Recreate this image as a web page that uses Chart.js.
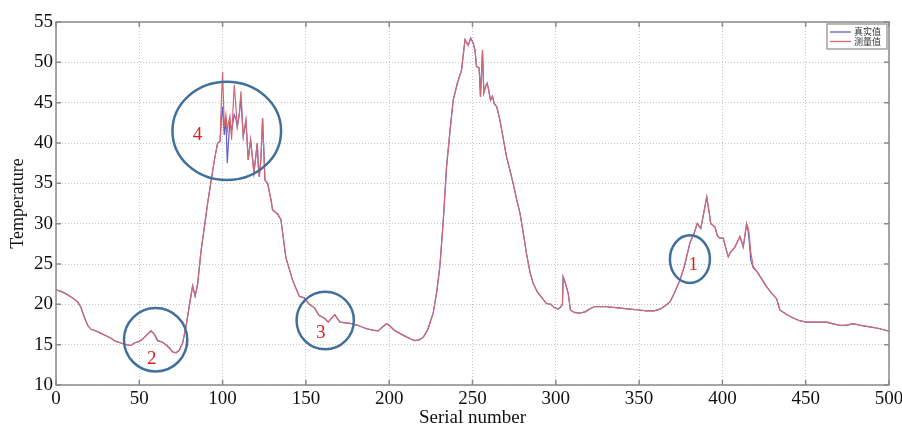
<!DOCTYPE html>
<html>
<head>
<meta charset="utf-8">
<script src="https://cdn.jsdelivr.net/npm/chart.js@4/dist/chart.umd.min.js"></script>
<style>
  html, body { margin: 0; padding: 0; background: #fff; }
</style>
</head>
<body>
<canvas id="tempChart" width="902" height="428"></canvas>
<script>
// serial numbers shared by both series
const serialNumbers = [
  0, 3, 6, 10, 13, 15, 17, 19, 21, 24, 27, 30, 33, 36, 39, 42, 45, 47, 50, 52,
  55, 57, 59, 61, 64, 67, 70, 72, 74, 76, 78, 80, 82, 83.5, 85, 87, 89, 91, 93, 95,
  97, 98.5, 99.3, 100, 101, 102, 102.8, 103.5, 104.4, 105.4, 106.2, 107, 108, 108.8, 110, 111, 112.4, 114, 115.4, 116.8,
  118, 118.8, 120, 120.8, 121.5, 122, 123, 124, 125.4, 127, 129, 130, 133, 135, 138, 142, 146, 149, 152, 155,
  158, 161, 163.4, 165, 167.4, 169, 170.5, 174, 177.4, 181, 186, 190, 193.4, 196, 198.4, 200, 203, 206.4, 210, 213,
  215.4, 218, 220.4, 223, 226.4, 228.5, 230.4, 232.5, 234.4, 236.5, 238.4, 241, 243.4, 245.5, 247.4, 248.9, 250.4, 251.5, 252.4, 254,
  254.8, 256, 256.8, 257.8, 258.8, 259.8, 260.8, 262, 263, 264.5, 266.4, 268.5, 270.4, 272, 274.4, 276.5, 278.5, 280.5, 282.4, 284.5,
  286.4, 289, 291, 294.4, 297, 299, 301.4, 303, 304, 304.4, 305.5, 307.4, 308.8, 311, 314.4, 318, 320, 323, 326, 330.5,
  336, 340, 344.5, 350, 354.5, 359, 362.5, 365.5, 368.5, 371, 374.5, 377, 380.5, 383, 384.9, 387, 388.5, 390.6, 392, 393,
  395.5, 397, 398.5, 400.5, 402, 403.5, 405, 407.5, 410.5, 411.5, 412.5, 413.5, 414.5, 415.5, 416, 417, 418.5, 421, 424, 426.5,
  429, 432.5, 434.5, 438, 442.5, 446, 450.5, 456, 462.5, 466, 470.5, 474, 478.5, 483, 488.5, 494, 499.5, 500
];

// 真实值 (true values)
const trueValues = [
  21.8, 21.6, 21.3, 20.8, 20.3, 19.6, 18.4, 17.4, 16.9, 16.7, 16.4, 16.1, 15.8, 15.4, 15.2, 15.0, 14.9, 15.2, 15.4, 15.7,
  16.3, 16.7, 16.3, 15.5, 15.3, 14.8, 14.1, 14.0, 14.3, 15.2, 17.2, 19.8, 22.3, 21.0, 22.5, 26.5, 29.5, 32.5, 35.2, 37.8,
  40.0, 40.2, 43.0, 44.5, 41.0, 43.0, 37.5, 40.0, 42.8, 41.5, 42.5, 43.5, 43.0, 42.0, 43.5, 45.5, 40.8, 42.8, 37.9, 40.4,
  38.0, 36.3, 38.5, 40.0, 37.0, 35.8, 38.0, 43.1, 35.4, 35.0, 33.0, 31.7, 31.2, 30.5, 25.8, 23.0, 21.0, 20.8, 20.0, 19.6,
  18.6, 18.3, 17.8, 18.2, 18.7, 18.2, 17.8, 17.7, 17.6, 17.4, 17.0, 16.8, 16.7, 17.2, 17.6, 17.4, 16.8, 16.4, 16.0, 15.7,
  15.5, 15.6, 15.9, 16.8, 18.9, 21.5, 24.7, 30.5, 37.0, 41.5, 45.3, 47.5, 49.0, 52.8, 52.1, 53.0, 52.4, 51.5, 49.5, 49.3,
  45.7, 51.5, 46.2, 47.0, 47.4, 46.5, 45.3, 45.8, 44.9, 44.5, 42.9, 40.5, 38.3, 37.0, 35.0, 33.0, 31.3, 28.8, 26.3, 24.0,
  22.6, 21.5, 21.0, 20.1, 20.0, 19.6, 19.4, 19.7, 20.0, 23.4, 22.8, 21.4, 19.3, 19.0, 18.9, 19.1, 19.4, 19.7, 19.7, 19.7,
  19.6, 19.5, 19.4, 19.3, 19.2, 19.2, 19.4, 19.8, 20.3, 21.3, 23.0, 24.6, 27.6, 28.8, 30.0, 29.4, 31.0, 33.3, 31.5, 30.0,
  29.6, 28.5, 28.2, 28.2, 27.0, 25.9, 26.5, 27.1, 28.4, 27.8, 27.1, 28.5, 30.0, 29.0, 28.0, 25.5, 24.5, 24.0, 23.0, 22.2,
  21.5, 20.7, 19.3, 18.8, 18.3, 18.0, 17.8, 17.8, 17.8, 17.6, 17.4, 17.4, 17.6, 17.4, 17.2, 17.0, 16.7, 16.6
];

// 测量值 (measured values)
const measuredValues = [
  21.8, 21.6, 21.3, 20.8, 20.3, 19.6, 18.4, 17.4, 16.9, 16.7, 16.4, 16.1, 15.8, 15.4, 15.2, 15.0, 14.9, 15.2, 15.4, 15.7,
  16.3, 16.7, 16.3, 15.5, 15.3, 14.8, 14.1, 14.0, 14.3, 15.2, 17.2, 19.8, 22.3, 21.0, 22.5, 26.5, 29.5, 32.5, 35.2, 37.8,
  40.0, 40.2, 45.5, 48.8, 42.0, 43.5, 41.5, 42.5, 43.3, 40.4, 44.0, 47.2, 44.5, 42.0, 43.5, 46.4, 40.8, 42.8, 37.9, 40.4,
  38.0, 36.3, 38.5, 40.0, 37.0, 35.8, 38.0, 43.1, 35.4, 35.0, 33.0, 31.7, 31.2, 30.5, 25.8, 23.0, 21.0, 20.8, 20.0, 19.6,
  18.6, 18.3, 17.8, 18.2, 18.7, 18.2, 17.8, 17.7, 17.6, 17.4, 17.0, 16.8, 16.7, 17.2, 17.6, 17.4, 16.8, 16.4, 16.0, 15.7,
  15.5, 15.6, 15.9, 16.8, 18.9, 21.5, 24.7, 30.5, 37.0, 41.5, 45.3, 47.5, 49.0, 52.8, 52.1, 53.0, 52.4, 51.5, 49.5, 49.3,
  45.7, 51.5, 46.2, 47.0, 47.4, 46.5, 45.3, 45.8, 44.9, 44.5, 42.9, 40.5, 38.3, 37.0, 35.0, 33.0, 31.3, 28.8, 26.3, 24.0,
  22.6, 21.5, 21.0, 20.1, 20.0, 19.6, 19.4, 19.7, 20.0, 23.4, 22.8, 21.4, 19.3, 19.0, 18.9, 19.1, 19.4, 19.7, 19.7, 19.7,
  19.6, 19.5, 19.4, 19.3, 19.2, 19.2, 19.4, 19.8, 20.3, 21.3, 23.0, 24.6, 27.6, 28.8, 30.0, 29.4, 31.0, 33.3, 31.5, 30.0,
  29.6, 28.5, 28.2, 28.2, 27.0, 25.9, 26.5, 27.1, 28.4, 27.8, 27.1, 28.5, 30.0, 29.4, 28.8, 26.5, 24.7, 24.0, 23.0, 22.2,
  21.5, 20.7, 19.3, 18.8, 18.3, 18.0, 17.8, 17.8, 17.8, 17.6, 17.4, 17.4, 17.6, 17.4, 17.2, 17.0, 16.7, 16.6
];

const seriesLabels = ['真实值', '测量值'];
const xTicks = [0, 50, 100, 150, 200, 250, 300, 350, 400, 450, 500];
const yTicks = [10, 15, 20, 25, 30, 35, 40, 45, 50, 55];

// marked regions (data units): ellipse centre/radii + number position
const marks = [
  {text: '1', cx: 380.5, cy: 25.6, rx: 12.0, ry: 2.95, tx: 382.5, ty: 24.9},
  {text: '2', cx: 59.8, cy: 15.6, rx: 19.0, ry: 3.93, tx: 57.4, ty: 13.2},
  {text: '3', cx: 161.6, cy: 18.0, rx: 17.2, ry: 3.57, tx: 158.9, ty: 16.4},
  {text: '4', cx: 102.5, cy: 41.5, rx: 32.6, ry: 6.1, tx: 85.0, ty: 41.0}
];

const RED = 'rgb(212,104,114)';
const BLUE = 'rgb(96,96,206)';
const FRAME = '#8a8a8a';
const SERIF = '"Liberation Serif", "DejaVu Serif", serif';

function toPoints(values) {
  return serialNumbers.map((x, i) => ({x: x, y: values[i]}));
}

// frame on all four sides, inward tick marks, region marks and legend box
const decorations = {
  id: 'decorations',
  afterDatasetsDraw(chart) {
    const ctx = chart.ctx;
    const area = chart.chartArea;
    const xs = chart.scales.x;
    const ys = chart.scales.y;

    ctx.save();
    ctx.strokeStyle = FRAME;
    ctx.lineWidth = 1.5;
    ctx.strokeRect(area.left, area.top, area.right - area.left, area.bottom - area.top);

    const tl = 5;
    xTicks.forEach(v => {
      const px = xs.getPixelForValue(v);
      ctx.beginPath();
      ctx.moveTo(px, area.bottom); ctx.lineTo(px, area.bottom - tl);
      ctx.moveTo(px, area.top); ctx.lineTo(px, area.top + tl);
      ctx.stroke();
    });
    yTicks.forEach(v => {
      const py = ys.getPixelForValue(v);
      ctx.beginPath();
      ctx.moveTo(area.left, py); ctx.lineTo(area.left + tl, py);
      ctx.moveTo(area.right, py); ctx.lineTo(area.right - tl, py);
      ctx.stroke();
    });

    // circled regions
    marks.forEach(m => {
      const cx = xs.getPixelForValue(m.cx);
      const cy = ys.getPixelForValue(m.cy);
      const rx = Math.abs(xs.getPixelForValue(m.cx + m.rx) - cx);
      const ry = Math.abs(ys.getPixelForValue(m.cy + m.ry) - cy);
      ctx.beginPath();
      ctx.ellipse(cx, cy, rx, ry, 0, 0, Math.PI * 2);
      ctx.strokeStyle = '#41709c';
      ctx.lineWidth = 2.5;
      ctx.stroke();

      ctx.fillStyle = '#e41a1c';
      ctx.font = '19px ' + SERIF;
      ctx.textAlign = 'center';
      ctx.textBaseline = 'middle';
      ctx.fillText(m.text, xs.getPixelForValue(m.tx), ys.getPixelForValue(m.ty));
    });

    // legend box in the top right corner
    const bw = 60, bh = 25;
    const bx = area.right - 2 - bw;
    const by = area.top + 2;
    ctx.fillStyle = '#fff';
    ctx.fillRect(bx, by, bw, bh);
    ctx.strokeStyle = FRAME;
    ctx.lineWidth = 1.2;
    ctx.strokeRect(bx, by, bw, bh);
    chart.data.datasets.forEach((ds, i) => {
      const ly = by + 8 + i * 9.5;
      ctx.beginPath();
      ctx.moveTo(bx + 3, ly);
      ctx.lineTo(bx + 24, ly);
      ctx.strokeStyle = ds.borderColor;
      ctx.lineWidth = 1.3;
      ctx.stroke();
      ctx.fillStyle = '#333';
      ctx.font = '9px "Noto Sans CJK SC"';
      ctx.textAlign = 'left';
      ctx.textBaseline = 'middle';
      ctx.fillText(ds.label, bx + 27, ly);
    });
    ctx.restore();
  }
};

new Chart(document.getElementById('tempChart'), {
  type: 'line',
  data: {
    datasets: [
      {
        label: seriesLabels[0],
        data: toPoints(trueValues),
        borderColor: BLUE,
        borderWidth: 1.2,
        pointRadius: 0,
        tension: 0,
        order: 1
      },
      {
        label: seriesLabels[1],
        data: toPoints(measuredValues),
        borderColor: RED,
        borderWidth: 1.2,
        pointRadius: 0,
        tension: 0,
        order: 0
      }
    ]
  },
  options: {
    responsive: false,
    animation: false,
    devicePixelRatio: 1,
    layout: {padding: {top: 22, right: 13, left: 0, bottom: 0}},
    plugins: {
      legend: {display: false},
      tooltip: {enabled: false}
    },
    scales: {
      x: {
        type: 'linear',
        min: 0,
        max: 500,
        afterBuildTicks: (scale) => { scale.ticks = xTicks.map(v => ({value: v})); },
        afterFit: (scale) => {
          scale.height = 43;
          scale.paddingLeft = 0;
          scale.paddingRight = 0;
        },
        grid: {color: '#c4c4c4', lineWidth: 1, drawTicks: false},
        border: {display: false, dash: [1, 2]},
        ticks: {color: '#111', padding: 3, maxRotation: 0, font: {family: SERIF, size: 19}},
        title: {
          display: true,
          text: 'Serial number',
          color: '#111',
          padding: 0,
          font: {family: SERIF, size: 19, lineHeight: 1}
        }
      },
      y: {
        min: 10,
        max: 55,
        afterBuildTicks: (scale) => { scale.ticks = yTicks.map(v => ({value: v})); },
        afterFit: (scale) => {
          scale.width = 56;
          scale.paddingTop = 0;
          scale.paddingBottom = 0;
        },
        grid: {color: '#c4c4c4', lineWidth: 1, drawTicks: false},
        border: {display: false, dash: [1, 2]},
        ticks: {color: '#111', padding: 3, font: {family: SERIF, size: 19}},
        title: {
          display: true,
          text: 'Temperature',
          color: '#111',
          padding: {top: 7, bottom: 0},
          font: {family: SERIF, size: 18}
        }
      }
    }
  },
  plugins: [decorations]
});
</script>
</body>
</html>
